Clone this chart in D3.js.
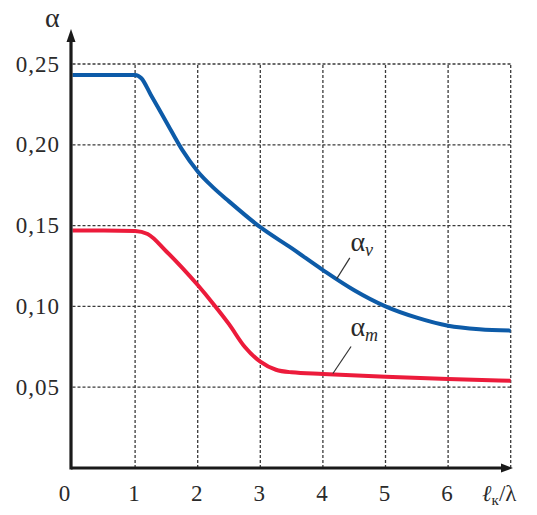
<!DOCTYPE html>
<html><head><meta charset="utf-8">
<script src="https://cdn.jsdelivr.net/npm/d3@7"></script>
<style>
html,body{margin:0;padding:0;background:#fff;}
</style></head><body>
<svg id="c" width="537" height="515"></svg>
<script>
// ---- data ----
const xTicks = [0,1,2,3,4,5,6];
const xTickLabels = ["0","1","2","3","4","5","6"];
const yTicks = [0.05,0.10,0.15,0.20,0.25];
const yTickLabels = ["0,05","0,10","0,15","0,20","0,25"];
const xGrid = [1,2,3,4,5,6,7];

const blueX = [0,0.5,1,1.1,1.25,1.5,1.75,2,2.25,2.5,3,3.5,4,4.5,5,5.5,6,6.5,7];
const blueY = [0.2432,0.2432,0.2432,0.2412,0.231,0.214,0.197,0.1835,0.1735,0.165,0.149,0.136,0.1225,0.110,0.100,0.093,0.088,0.0858,0.085];

const redX = [0,0.5,1,1.2,1.5,1.75,2,2.25,2.5,2.75,3,3.25,3.5,4,5,6,7];
const redY = [0.147,0.147,0.1467,0.1448,0.134,0.124,0.1132,0.1015,0.089,0.075,0.0658,0.0608,0.0592,0.0582,0.0565,0.0551,0.054];

// ---- layout ----
const FONT = "'Liberation Serif', 'Times New Roman', Times, serif";
const svg = d3.select("#c");
const x = d3.scaleLinear().domain([0,7]).range([72.5,510.7]);
const y = d3.scaleLinear().domain([0,0.25]).range([468,64]);

// grid
const gridColor = "#3a3a3a";
svg.append("g").selectAll("line").data(xGrid).join("line")
  .attr("x1",d=>x(d)).attr("x2",d=>x(d))
  .attr("y1",y(0)).attr("y2",y(0.25))
  .attr("stroke",gridColor).attr("stroke-width",1.3).attr("stroke-dasharray","3,2");
svg.append("g").selectAll("line").data(yTicks).join("line")
  .attr("x1",x(0)).attr("x2",x(7))
  .attr("y1",d=>y(d)).attr("y2",d=>y(d))
  .attr("stroke",gridColor).attr("stroke-width",1.3).attr("stroke-dasharray","3,2");

// curves
const line = d3.line().x(d=>x(d[0])).y(d=>y(d[1])).curve(d3.curveMonotoneX);
svg.append("path").datum(redX.map((v,i)=>[v,redY[i]]))
  .attr("d",line).attr("fill","none").attr("stroke","#ec1b3b").attr("stroke-width",4);
svg.append("path").datum(blueX.map((v,i)=>[v,blueY[i]]))
  .attr("d",line).attr("fill","none").attr("stroke","#0d5ba8").attr("stroke-width",4);

// axes
const ax = "#1a1a1a";
svg.append("line").attr("x1",x(0)-1.5).attr("x2",x(7)-4).attr("y1",y(0)).attr("y2",y(0))
  .attr("stroke",ax).attr("stroke-width",3.2);
svg.append("line").attr("x1",x(0)-1.5).attr("x2",x(0)-1.5).attr("y1",y(0)+1.5).attr("y2",40)
  .attr("stroke",ax).attr("stroke-width",3.2);
svg.append("path").attr("d",`M${x(0)-1.5},29 L${x(0)-6},42 L${x(0)+3},42 Z`).attr("fill",ax);
svg.append("path").attr("d",`M513,${y(0)} L501,${y(0)-4.5} L501,${y(0)+4.5} Z`).attr("fill",ax);

const txt = "#2a2a2a";
// y tick labels
svg.append("g").selectAll("text").data(yTicks).join("text")
  .attr("x",60).attr("y",d=>y(d)+7.5).attr("text-anchor","end")
  .attr("font-family",FONT).attr("fill",txt)
  .attr("font-size",23).attr("letter-spacing",1)
  .text((d,i)=>yTickLabels[i]);
// x tick labels
svg.append("g").selectAll("text").data(xTicks).join("text")
  .attr("x",d=>d===0?64.5:x(d)-1).attr("y",501).attr("text-anchor","middle")
  .attr("font-family",FONT).attr("fill",txt)
  .attr("font-size",23)
  .text((d,i)=>xTickLabels[i]);

// axis titles
svg.append("text").attr("x",45).attr("y",27).attr("font-size",28)
  .attr("font-family",FONT).attr("fill",txt).text("α");
const xl = svg.append("text").attr("x",482).attr("y",501).attr("font-size",23)
  .attr("font-family",FONT).attr("fill",txt);
xl.append("tspan").attr("font-style","italic").text("ℓ");
xl.append("tspan").attr("font-size",15).attr("dy",4).text("к");
xl.append("tspan").attr("dy",-4).text("/λ");

// curve labels
function curveLabel(lx,ly,sub,l1,l2){
  svg.append("line").attr("x1",x(l1[0])).attr("y1",y(l1[1])).attr("x2",x(l2[0])).attr("y2",y(l2[1]))
    .attr("stroke","#333").attr("stroke-width",1.2);
  const t = svg.append("text").attr("x",x(lx)).attr("y",y(ly)).attr("font-size",28)
    .attr("font-family",FONT).attr("fill",txt);
  t.append("tspan").text("α");
  t.append("tspan").attr("font-size",18).attr("font-style","italic").attr("dy",5).text(sub);
}
curveLabel(4.44,0.1345,"ν",[4.43,0.130],[4.22,0.117]);
curveLabel(4.44,0.0815,"m",[4.45,0.0752],[4.16,0.0585]);
</script>
</body></html>
